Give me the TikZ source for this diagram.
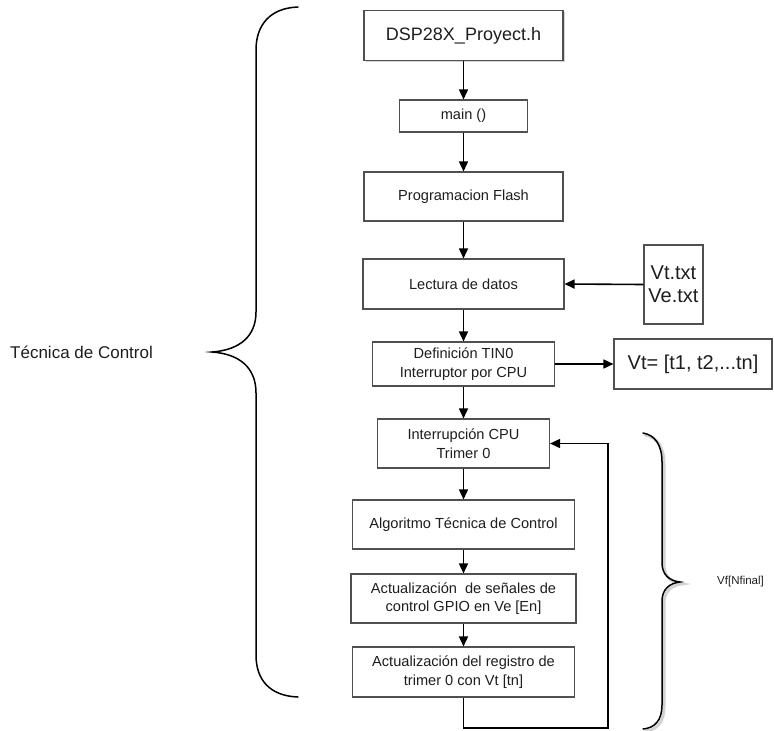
\documentclass[tikz,border=0pt]{standalone}
\usepackage{fontspec}
\setmainfont{Liberation Sans}
\usetikzlibrary{arrows.meta,shadows}
\definecolor{boxline}{HTML}{505050}
\definecolor{txt}{HTML}{1E1E1E}
\begin{document}
\begin{tikzpicture}[x=1pt,y=-1pt,
  stepbox/.style={draw=boxline,line width=1.1pt,fill=white,inner sep=0pt,align=center,text=txt,
    font=\fontsize{14.6}{18.5}\selectfont},
  bigbox/.style={stepbox,font=\fontsize{20}{23}\selectfont},
  arr/.style={draw=black,line width=1.6pt,-{Triangle[length=10pt,width=9pt]}},
  brace/.style={draw=black,line width=1.5pt,line cap=round},
  lbl/.style={text=txt,inner sep=0pt}]
\useasboundingbox (0,0) rectangle (774,731);

% boxes
\node[stepbox,minimum width=199pt,minimum height=50pt,font=\fontsize{18}{21}\selectfont,
  drop shadow={shadow xshift=1.5pt,shadow yshift=-1.5pt,opacity=0.35}] (dsp) at (463.5,35.5) {DSP28X\_Proyect.h};
\node[stepbox,minimum width=128pt,minimum height=32pt] (main) at (463.5,116) {main ()};
\node[stepbox,minimum width=199pt,minimum height=49pt] (prog) at (463.5,196.5) {Programacion Flash};
\node[stepbox,minimum width=201pt,minimum height=50pt] (lect) at (463.5,284) {Lectura de datos};
\node[bigbox,minimum width=59pt,minimum height=79pt] (vtxt) at (673.5,284.5) {Vt.txt\\Ve.txt};
\node[stepbox,minimum width=182pt,minimum height=44pt] (def) at (463.5,364) {Definición TIN0\\Interruptor por CPU};
\node[bigbox,minimum width=158pt,minimum height=50pt] (vteq) at (693,364) {Vt= [t1, t2,...tn]};
\node[stepbox,minimum width=172pt,minimum height=49pt] (intr) at (463.5,443.5) {Interrupción CPU\\Trimer 0};
\node[stepbox,minimum width=222pt,minimum height=49pt] (algo) at (463.5,524.5) {Algoritmo Técnica de Control};
\node[stepbox,minimum width=225pt,minimum height=49pt] (act1) at (463.5,598.5) {Actualización\ \ de señales de\\control GPIO en Ve [En]};
\node[stepbox,minimum width=222pt,minimum height=50pt] (act2) at (463.5,672) {Actualización del registro de\\trimer 0 con Vt [tn]};

% connectors
\draw[arr] (dsp) -- (main);
\draw[arr] (main) -- (prog);
\draw[arr] (prog) -- (lect);
\draw[arr] (lect) -- (def);
\draw[arr] (def) -- (intr);
\draw[arr] (intr) -- (algo);
\draw[arr] (algo) -- (act1);
\draw[arr] (act1) -- (act2);
\draw[arr] (vtxt.west) -- (lect.east);
\draw[arr] (def.east) -- (vteq.west);
\coordinate (lp) at (608,728);
\draw[arr] (act2.south) |- (lp) |- (intr.east);

% left brace
\draw[brace] (298,7) .. controls (270,8) and (256,25) .. (256,50) -- (256,312)
  .. controls (256,336) and (240,350) .. (212,352)
  .. controls (240,354) and (256,368) .. (256,393) -- (256,655)
  .. controls (256,680) and (270,696) .. (298,697);
\node[lbl,anchor=west,font=\fontsize{17}{20}\selectfont] (tlabel) at (10,352) {Técnica de Control};

% right brace with shadow
\draw[brace,draw=black!35,line width=3pt,opacity=0.5,shift={(2,2)}] (643,433) .. controls (655,435) and (662,445) .. (662,462) -- (662,563)
  .. controls (662,575) and (670,581) .. (680,582)
  .. controls (670,583) and (662,589) .. (662,601) -- (662,705)
  .. controls (662,720) and (655,728) .. (643,729);
\draw[brace] (643,433) .. controls (655,435) and (662,445) .. (662,462) -- (662,563)
  .. controls (662,575) and (670,581) .. (680,582)
  .. controls (670,583) and (662,589) .. (662,601) -- (662,705)
  .. controls (662,720) and (655,728) .. (643,729);
\node[lbl,anchor=west,font=\fontsize{11.5}{14}\selectfont] (vflabel) at (717,582) {Vf[Nfinal]};
\end{tikzpicture}
\end{document}
